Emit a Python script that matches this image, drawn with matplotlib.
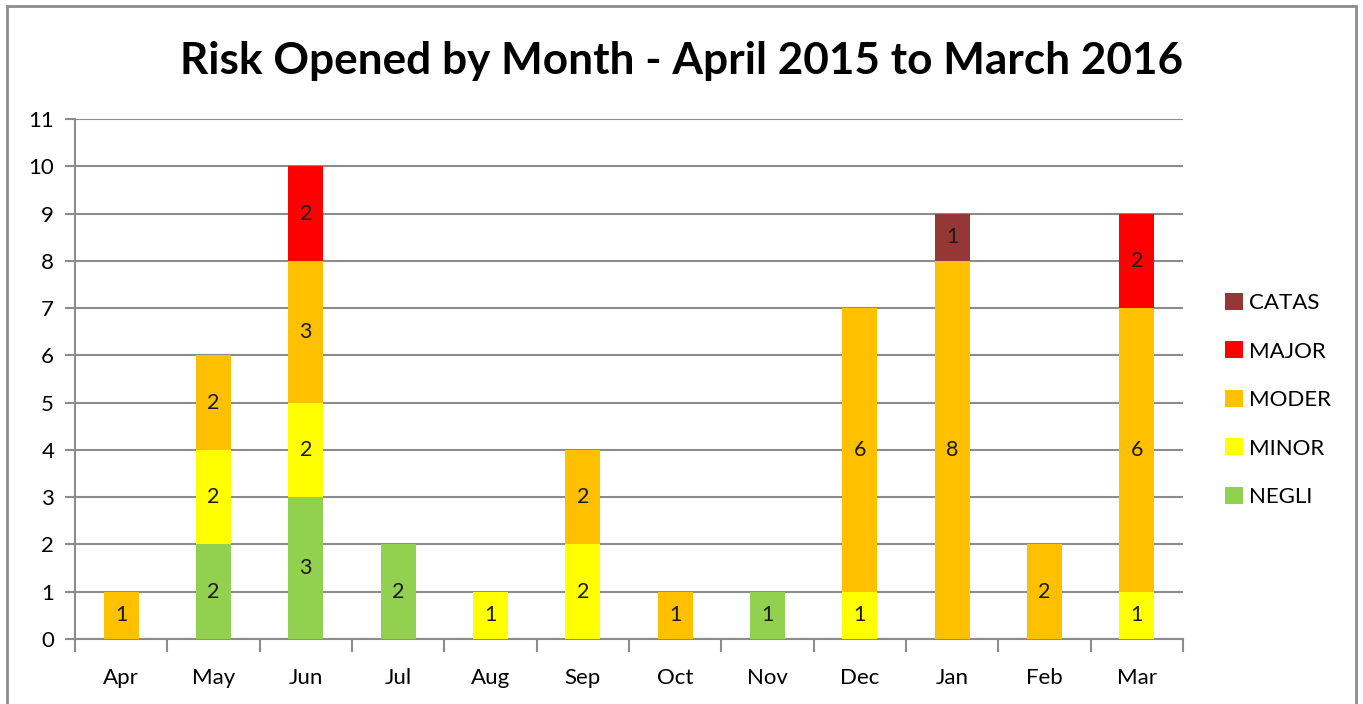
import matplotlib.pyplot as plt
import numpy as np
from matplotlib.patches import Rectangle

months = ['Apr', 'May', 'Jun', 'Jul', 'Aug', 'Sep', 'Oct', 'Nov', 'Dec', 'Jan', 'Feb', 'Mar']
negli = [0, 2, 3, 2, 0, 0, 0, 1, 0, 0, 0, 0]
minor = [0, 2, 2, 0, 1, 2, 0, 0, 1, 0, 0, 1]
moder = [1, 2, 3, 0, 0, 2, 1, 0, 6, 8, 2, 6]
major = [0, 0, 2, 0, 0, 0, 0, 0, 0, 0, 0, 2]
catas = [0, 0, 0, 0, 0, 0, 0, 0, 0, 1, 0, 0]

series = [('NEGLI', negli, '#92D050'),
          ('MINOR', minor, '#FFFF00'),
          ('MODER', moder, '#FFC000'),
          ('MAJOR', major, '#FF0000'),
          ('CATAS', catas, '#953735')]

plt.rcParams['font.family'] = ['Lato', 'DejaVu Sans']
grid_col = '#8C8C8C'

fig = plt.figure(figsize=(13.63, 7.04), dpi=100)
ax = fig.add_axes([75 / 1363, 65 / 704, 1108 / 1363, 520 / 704])

x = np.arange(len(months))
bottom = np.zeros(len(months))
handles = []
for name, vals, col in series:
    vals = np.array(vals, dtype=float)
    bars = ax.bar(x, vals, width=0.38, bottom=bottom, color=col, zorder=3, label=name)
    for xi, v, b in zip(x, vals, bottom):
        if v > 0:
            ax.text(xi, b + v / 2, str(int(v)), ha='center', va='center',
                    fontsize=15.5, color='#1a1a1a', zorder=4)
    bottom += vals
    handles.append(bars)

ax.set_xlim(-0.5, len(months) - 0.5)
ax.set_ylim(0, 11)
ax.set_yticks(range(0, 12))
ax.yaxis.grid(True, color=grid_col, linewidth=1.5, zorder=0)
ax.set_axisbelow(True)

ax.set_xticks(x)
ax.set_xticklabels(months)
ax.set_xticks(np.arange(-0.5, len(months) + 0.5, 1), minor=True)
ax.tick_params(axis='x', which='major', length=0, pad=21, labelsize=16)
ax.tick_params(axis='x', which='minor', length=9, width=1.5, color=grid_col)
ax.tick_params(axis='y', length=7, width=1.5, color=grid_col, labelsize=16, pad=8)

for s in ['top', 'right']:
    ax.spines[s].set_visible(False)
ax.spines['left'].set_color(grid_col)
ax.spines['left'].set_linewidth(1.5)
ax.spines['bottom'].set_color(grid_col)
ax.spines['bottom'].set_linewidth(1.5)

fig.text(682 / 1363, 1 - 61 / 704, 'Risk Opened by Month - April 2015 to March 2016',
         ha='center', va='center', fontsize=31.8, fontweight='bold')

leg = fig.legend(handles[::-1], [s[0] for s in series[::-1]],
                 loc='upper left', bbox_to_anchor=(1205 / 1363, 1 - 273 / 704),
                 frameon=False, fontsize=16, handlelength=0.8, handleheight=0.8,
                 labelspacing=1.27, handletextpad=0.3)

fig.patches.append(Rectangle((7 / 1363, -0.01), 1349 / 1363, 1 - 6 / 704 + 0.01,
                             transform=fig.transFigure, fill=False,
                             edgecolor='#8C8C8C', linewidth=2))

fig.savefig('out.png', dpi=100)
